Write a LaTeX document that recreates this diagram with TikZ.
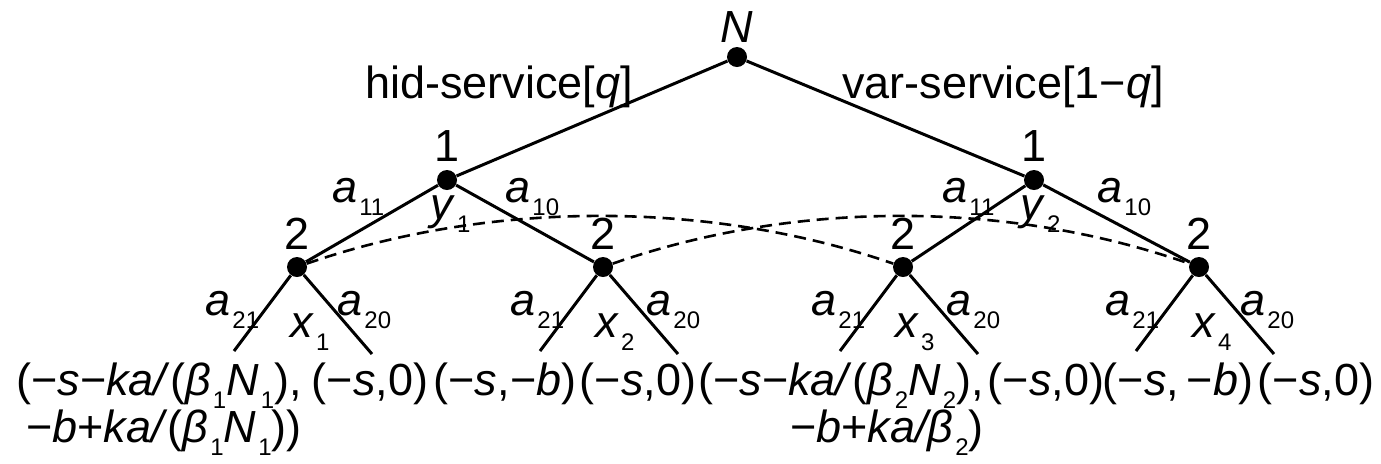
\documentclass[tikz,border=0pt]{standalone}
\usepackage{fontspec}
\setmainfont{Liberation Sans}
\usetikzlibrary{positioning}
\newcommand\tief[1]{\kern1pt\raisebox{-6.5pt}{\fontsize{12}{12}\selectfont #1}}

\begin{document}
\begin{tikzpicture}[
      x=0.5pt, y=-0.5pt,
      font=\fontsize{22.5}{22.5}\selectfont,
      spieler/.style={circle, fill=black, inner sep=0pt, minimum size=10pt},
      ast/.style={line width=1.5pt},
      info/.style={line width=1.3pt, dash pattern=on 6pt off 3.5pt},
      lbl/.style={inner sep=1pt},
      txt/.style={inner sep=0pt, anchor=base west},
      pay/.style={inner sep=0pt, anchor=north, align=right}
    ]
    \useasboundingbox (0,0) rectangle (1381,463);

    % Entscheidungsknoten
    \node[spieler] (N) at (737,57) {};
    \node[spieler] (y1) at (447,180) {};
    \node[spieler] (y2) at (1034,180) {};
    \node[spieler] (x1) at (297,267) {};
    \node[spieler] (x2) at (603,267) {};
    \node[spieler] (x3) at (903,267) {};
    \node[spieler] (x4) at (1199,267) {};

    % Spielerbezeichnungen
    \node[lbl, above=1pt of N] (labN) {\textit{N}};
    \node[lbl, above=3pt of y1] (laby1) {1};
    \node[lbl, above=3pt of y2] (laby2) {1};
    \node[lbl, above=2.5pt of x1] (labx1) {2};
    \node[lbl, above=2.5pt of x2] (labx2) {2};
    \node[lbl, above=2.5pt of x3] (labx3) {2};
    \node[lbl, above=2.5pt of x4] (labx4) {2};

    % Endpunkte
    \coordinate (e11) at (234,351); \coordinate (e10) at (372,354);
    \coordinate (e21) at (540,351); \coordinate (e20) at (678,354);
    \coordinate (e31) at (840,351); \coordinate (e30) at (978,354);
    \coordinate (e41) at (1136,351); \coordinate (e40) at (1274,354);

    % Kanten
    \draw[ast] (N) -- (y1);
    \draw[ast] (N) -- (y2);
    \draw[ast] (y1) -- (x1);
    \draw[ast] (y1) -- (x2);
    \draw[ast] (y2) -- (x3);
    \draw[ast] (y2) -- (x4);
    \draw[ast] (x1) -- (e11);  \draw[ast] (x1) -- (e10);
    \draw[ast] (x2) -- (e21);  \draw[ast] (x2) -- (e20);
    \draw[ast] (x3) -- (e31);  \draw[ast] (x3) -- (e30);
    \draw[ast] (x4) -- (e41);  \draw[ast] (x4) -- (e40);

    % Informationsmengen
    \draw[info] (x1) .. controls (490,200) and (710,200) .. (x3);
    \draw[info] (x2) .. controls (795,200) and (1007,200) .. (x4);

    % Kantenbeschriftungen
    \node[txt] (hid) at (365,98) {hid-service[\textit{q}]};
    \node[txt] (var) at (842,98) {var-service[1−\textit{q}]};
    \node[txt] (a11l) at (332,202) {\textit{a}\tief{11}};
    \node[txt] (ly1) at (430,219) {\textit{y}\tief{1}};
    \node[txt] (a10l) at (505,202) {\textit{a}\tief{10}};
    \node[txt] (a11r) at (942,202) {\textit{a}\tief{11}};
    \node[txt] (ly2) at (1020,219) {\textit{y}\tief{2}};
    \node[txt] (a10r) at (1097,202) {\textit{a}\tief{10}};

    \node[txt] (a21a) at (205,315) {\textit{a}\tief{21}};
    \node[txt] (lx1) at (290,337) {\textit{x}\tief{1}};
    \node[txt] (a20a) at (337,315) {\textit{a}\tief{20}};
    \node[txt] (a21b) at (510,315) {\textit{a}\tief{21}};
    \node[txt] (lx2) at (595,337) {\textit{x}\tief{2}};
    \node[txt] (a20b) at (646,315) {\textit{a}\tief{20}};
    \node[txt] (a21c) at (811,315) {\textit{a}\tief{21}};
    \node[txt] (lx3) at (895,337) {\textit{x}\tief{3}};
    \node[txt] (a20c) at (946,315) {\textit{a}\tief{20}};
    \node[txt] (a21d) at (1105,315) {\textit{a}\tief{21}};
    \node[txt] (lx4) at (1192,337) {\textit{x}\tief{4}};
    \node[txt] (a20d) at (1240,315) {\textit{a}\tief{20}};

    % Auszahlungen
    \node[pay] (p1) at (159,362) {(−\textit{s}−\textit{ka/}(\textit{β}\tief{1}\textit{N}\tief{1}),\\
      −\textit{b}+\textit{ka/}(\textit{β}\tief{1}\textit{N}\tief{1}))};
    \node[pay] (p2) at (370,362) {(−\textit{s},0)};
    \node[pay] (p3) at (505,362) {(−\textit{s},−\textit{b})};
    \node[pay] (p4) at (638,362) {(−\textit{s},0)};
    \node[pay] (p5) at (841,362) {(−\textit{s}−\textit{ka/}(\textit{β}\tief{2}\textit{N}\tief{2}),\\
      −\textit{b}+\textit{ka/β}\tief{2})};
    \node[pay] (p6) at (1046,362) {(−\textit{s},0)};
    \node[pay] (p7) at (1178,362) {(−\textit{s},\,−\textit{b})};
    \node[pay] (p8) at (1316,362) {(−\textit{s},0)};
\end{tikzpicture}
\end{document}
